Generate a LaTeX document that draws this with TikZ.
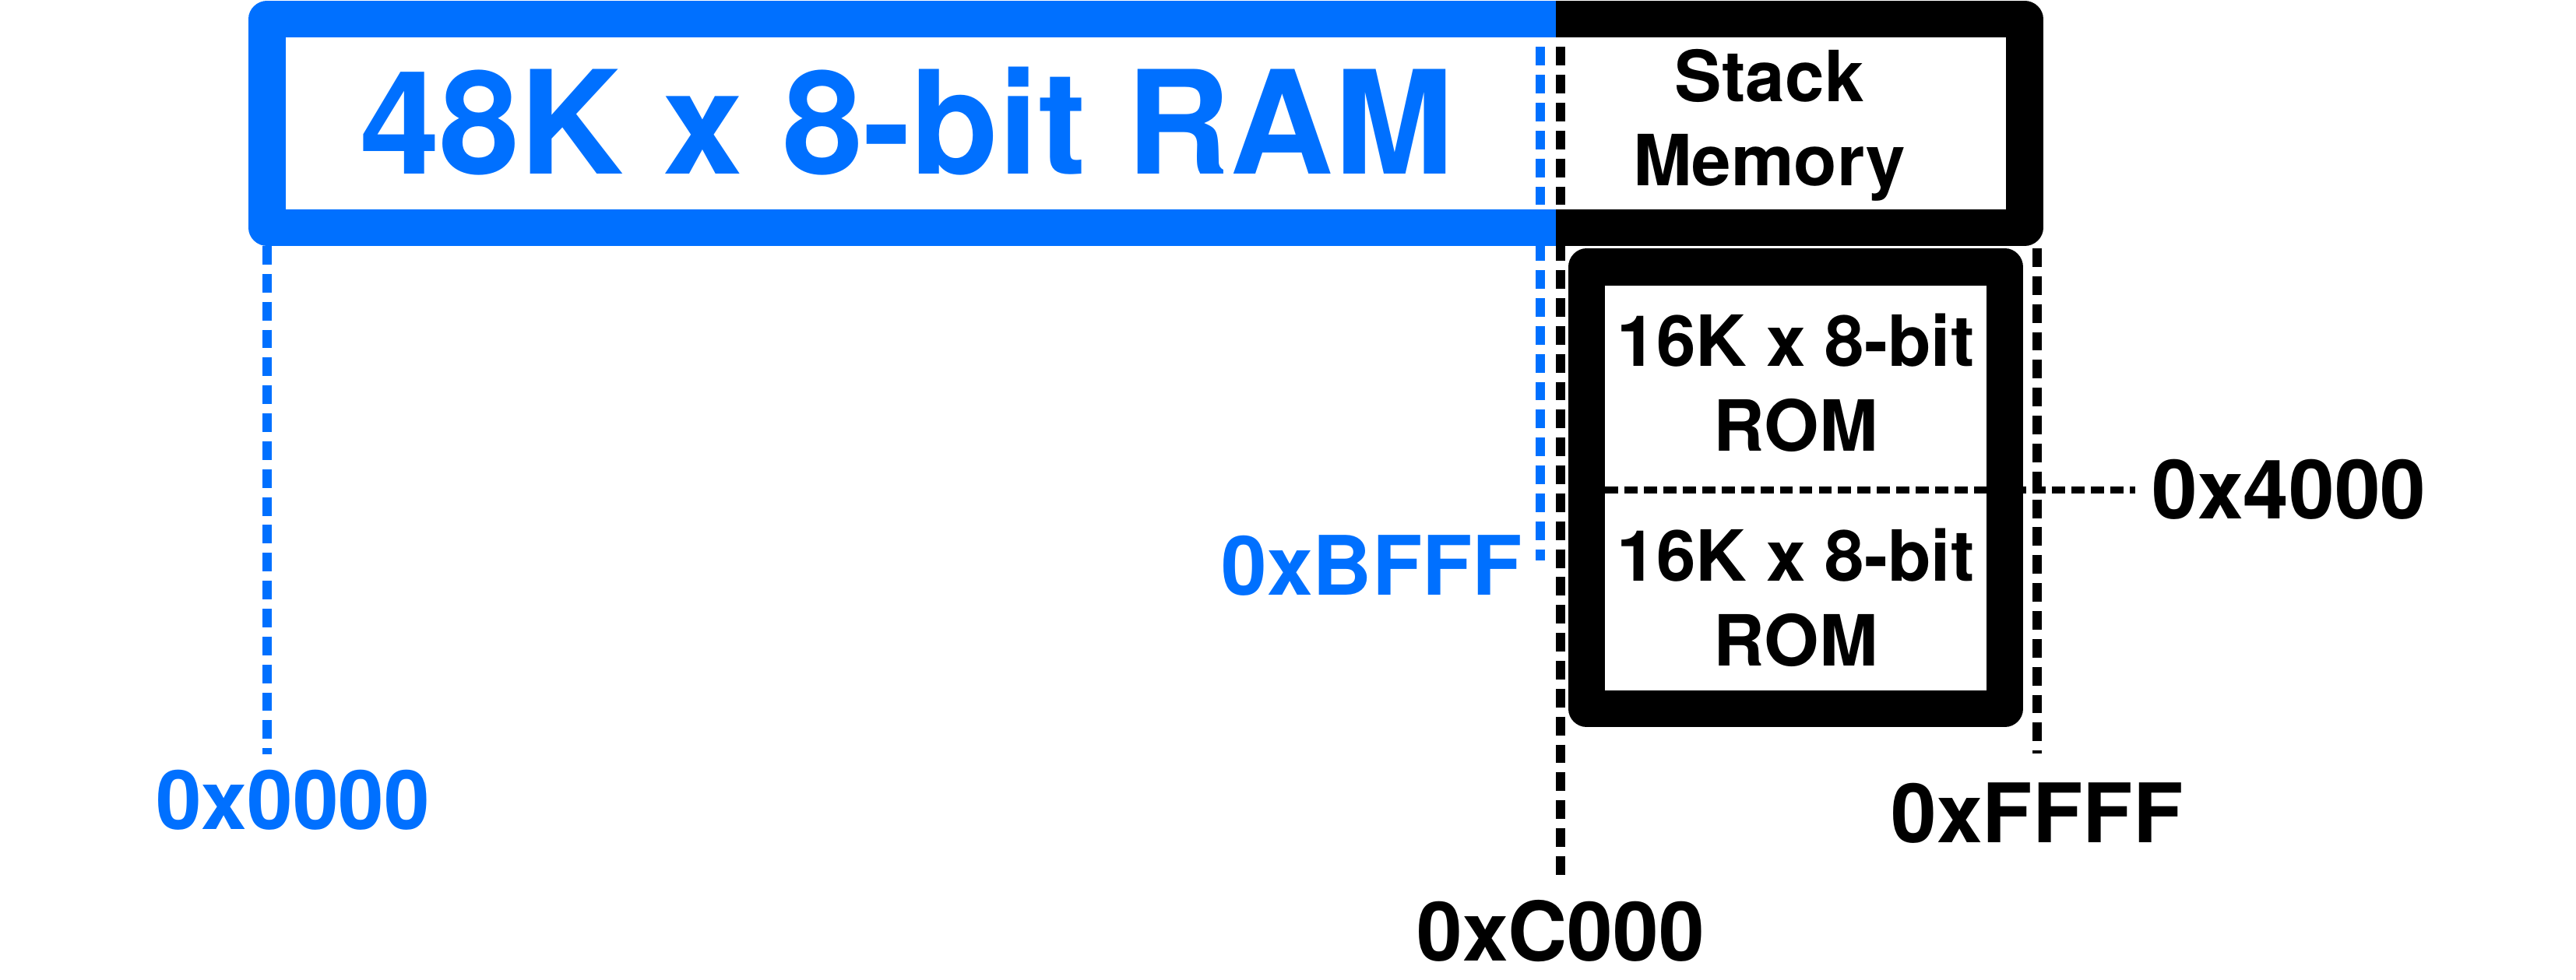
\documentclass[tikz,border=0pt]{standalone}
\usepackage{fontspec}
\setmainfont{TeX Gyre Heros}
\usepackage{tikz}
\usetikzlibrary{calc}
\definecolor{RamBlue}{HTML}{0070FF}

\begin{document}
\begin{tikzpicture}[
    ramedge/.style={draw=RamBlue, line width=13.4pt, line join=round},
    blkedge/.style={draw=black, line width=13.4pt, line join=round},
    bigtext/.style={font=\fontsize{52.5}{60}\selectfont\bfseries, text=RamBlue, inner sep=0pt},
    blocktext/.style={font=\fontsize{25.8}{30.8}\selectfont\bfseries, align=center, inner sep=0pt},
    addr/.style={font=\fontsize{30}{36}\selectfont\bfseries, inner sep=0pt},
    bounddash/.style={line width=3.5pt, dash pattern=on 6.8pt off 3.4pt},
    halfdash/.style={line width=2.6pt, dash pattern=on 4.8pt off 2.3pt},
  ]
    \useasboundingbox (0,0) rectangle (33.08,12.59);
    % RAM + stack strip
    \coordinate (ramNW) at (3.43,12.345);
    \coordinate (ramSW) at (3.43,9.665);
    \coordinate (midN)  at (19.98,12.345);
    \coordinate (midS)  at (19.98,9.665);
    \coordinate (stkNE) at (26.00,12.345);
    \coordinate (stkSE) at (26.00,9.665);
    \draw[ramedge] (midN) -- (ramNW) -- (ramSW) -- (midS);
    \draw[blkedge] (midN) -- (stkNE) -- (stkSE) -- (midS);
    % ROM block
    \coordinate (romNW) at (20.375,9.16);
    \coordinate (romSE) at (25.745,3.485);
    \draw[blkedge] (romNW) rectangle (romSE);

    \node[bigtext, anchor=base] (ram) at (11.645,10.35) {48K x 8-bit RAM};
    \node[blocktext] (stack) at (22.72,10.985) {Stack\\Memory};
    \node[blocktext] (romhi) at (23.06,7.673) {16K x 8-bit\\ROM};
    \node[blocktext] (romlo) at (23.06,4.913) {16K x 8-bit\\ROM};

    \node[addr, text=RamBlue, anchor=base] (a0000) at (3.76,1.93) {0x0000};
    \node[addr, text=RamBlue, anchor=base east] (abfff) at (19.56,4.94) {0xBFFF};
    \node[addr, anchor=base] (ac000) at (20.04,0.24) {0xC000};
    \node[addr, anchor=base] (affff) at (26.16,1.76) {0xFFFF};
    \node[addr, anchor=base west] (a4000) at (27.63,5.92) {0x4000};

    % address marks
    \coordinate (bfffX) at ($(abfff.base east)+(0.22,0.45)$);
    \draw[bounddash, RamBlue] ($(ramSW)+(0,-0.235)$) -- ($(ramSW |- a0000.north)+(0,0.2)$);
    \draw[bounddash, RamBlue] (bfffX |- midN) -- (bfffX);
    \draw[bounddash] (ac000.north |- midN) -- ($(ac000.north)+(0,0.23)$);
    \draw[bounddash] ($(affff.north |- midS)+(0,-0.265)$) -- ($(affff.north)+(0,0.37)$);
    \draw[halfdash] ($(romNW |- a4000.west)+(0.235,0)$) -- ($(a4000.west)+(-0.21,0)$);
  \end{tikzpicture}
\end{document}
